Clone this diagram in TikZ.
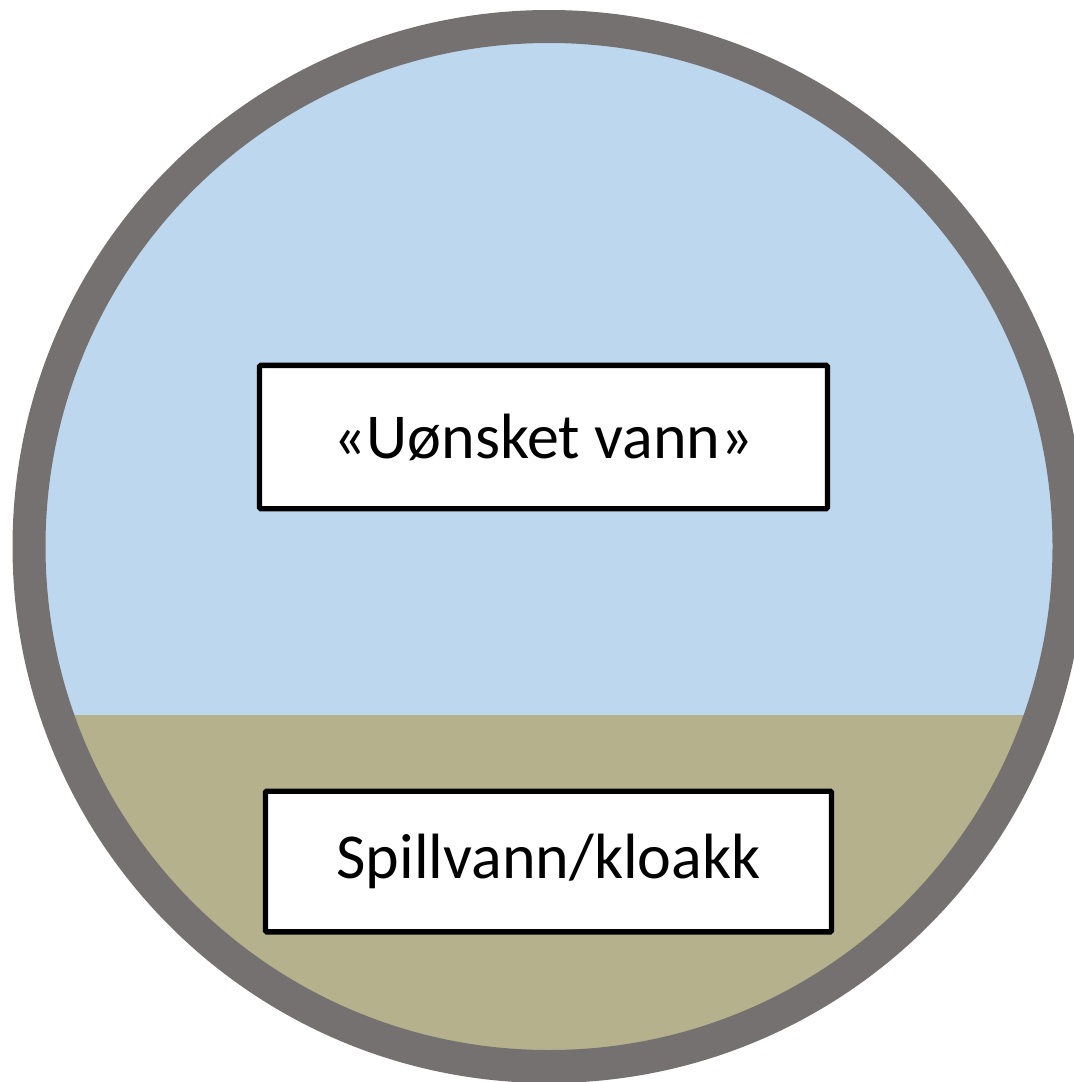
\documentclass[tikz,border=0pt]{standalone}
\usepackage{fontspec}
\setmainfont{Carlito}
\definecolor{ringgray}{RGB}{118,113,113}
\definecolor{skyblue}{RGB}{189,215,238}
\definecolor{sewage}{RGB}{180,177,140}
\begin{document}
\begin{tikzpicture}[x=0.75pt,y=-0.75pt,
  label box/.style={draw=black, fill=white, line width=4pt, rounded corners=1pt,
    inner sep=0pt, font=\fontsize{48}{56}\selectfont}]
  \useasboundingbox (0,0) rectangle (1074,1082);
  \clip (0,0) rectangle (1074,1082);
  % pipe cross-section: water above, sewage below
  \coordinate (c) at (549,546.5);
  \fill[skyblue] (c) circle[radius=505];
  \begin{scope}
    \clip (c) circle[radius=505];
    \fill[sewage] (0,715) rectangle (1100,1100);
  \end{scope}
  % pipe wall
  \draw[ringgray, line width=24.75pt] (c) circle[radius=520];
  % labels
  \node[label box, minimum width=426pt, minimum height=107.5pt] (unwanted) at (543.5,437) {«Uønsket vann»};
  \node[label box, minimum width=424.5pt, minimum height=105.5pt] (sewer) at (548.5,861.5) {Spillvann/kloakk};
\end{tikzpicture}
\end{document}
